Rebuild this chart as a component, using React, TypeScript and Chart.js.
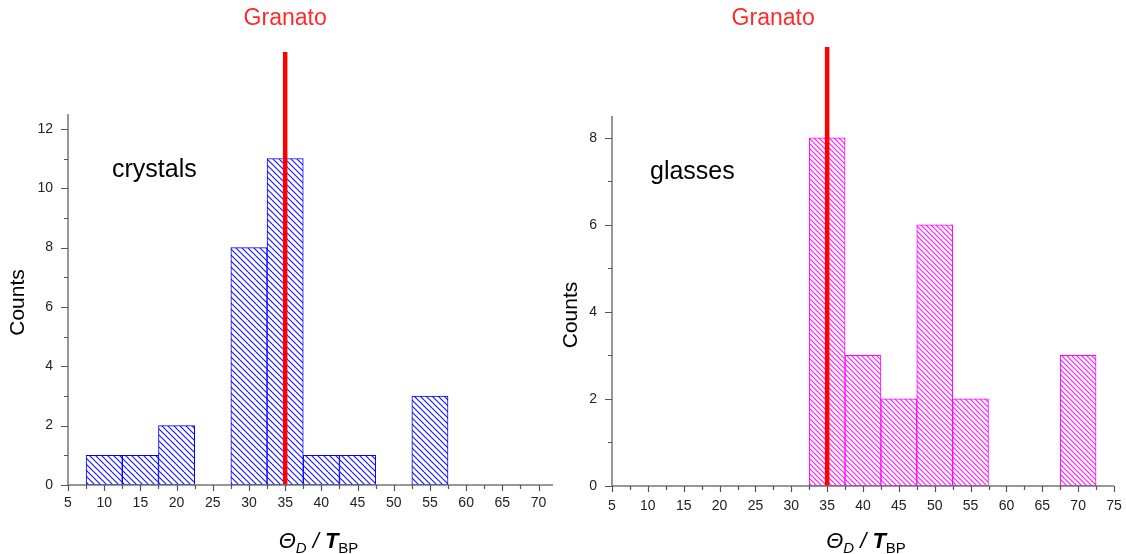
import React, { useEffect, useRef } from 'react';
import { Chart, registerables } from 'chart.js';
Chart.register(...registerables);

// ---- data ----
const crystalBins = [10, 15, 20, 30, 35, 40, 45, 55];
const crystalCounts = [1, 1, 2, 8, 11, 1, 1, 3];
const glassBins = [35, 40, 45, 50, 55, 70];
const glassCounts = [8, 3, 2, 6, 2, 3];
const granatoValue = 35;
const granatoLabel = 'Granato';
const crystalLabel = 'crystals';
const glassLabel = 'glasses';
const yTitle = 'Counts';

const FONT = '"Liberation Sans", Arial, sans-serif';

type Panel = {
  bins: number[];
  counts: number[];
  label: string;
  color: string;
  hatchColor: string;
  hatchSize: number;
  xMin: number;
  xMax: number;
  yMax: number;
  left: number;
  width: number;
  padTop: number;
  padRight: number;
  yAxisWidth: number;
  xAxisHeight: number;
  xLabelPad: number;
  markerTop: number;
  granatoDx: number;
  labelDx: number;
  labelY: number;
  countsX: number;
  countsDy: number;
  titleDx: number;
};

const panels: Panel[] = [
  {
    bins: crystalBins, counts: crystalCounts, label: crystalLabel,
    color: '#0000ff', hatchColor: '#1a1aff', hatchSize: 6,
    xMin: 5, xMax: 72, yMax: 12.5,
    left: 0, width: 556, padTop: 114, padRight: 3, yAxisWidth: 68, xAxisHeight: 69,
    xLabelPad: 10, markerTop: 52, granatoDx: 0, labelDx: 44, labelY: 177,
    countsX: 18, countsDy: 3, titleDx: 8,
  },
  {
    bins: glassBins, counts: glassCounts, label: glassLabel,
    color: '#ff00ff', hatchColor: '#ff1aff', hatchSize: 5,
    xMin: 5, xMax: 75, yMax: 8.5,
    left: 556, width: 570, padTop: 116, padRight: 12, yAxisWidth: 56, xAxisHeight: 68,
    xLabelPad: 12, markerTop: 47, granatoDx: -54, labelDx: 38, labelY: 179,
    countsX: 15, countsDy: 14, titleDx: 3,
  },
];

function makeHatch(ctx: CanvasRenderingContext2D, color: string, s: number) {
  const c = document.createElement('canvas');
  c.width = s; c.height = s;
  const g = c.getContext('2d')!;
  g.fillStyle = '#ffffff';
  g.fillRect(0, 0, s, s);
  g.strokeStyle = color;
  g.lineWidth = 1.2;
  g.beginPath();
  g.moveTo(-1, -1); g.lineTo(s + 1, s + 1);
  g.moveTo(-1, s - 1); g.lineTo(1, s + 1);
  g.moveTo(s - 1, -1); g.lineTo(s + 1, 1);
  g.stroke();
  return ctx.createPattern(c, 'repeat')!;
}

const decorPlugin = {
  id: 'panelDecor',
  afterDatasetsDraw(chart: any) {
    const p: Panel = chart.options.plugins.panelDecor.panel;
    const { ctx } = chart;
    const xs = chart.scales.x;
    const ys = chart.scales.y;
    ctx.save();
    const mx = xs.getPixelForValue(granatoValue);
    ctx.strokeStyle = '#ff0000';
    ctx.lineWidth = 4.5;
    ctx.beginPath();
    ctx.moveTo(mx, ys.getPixelForValue(0));
    ctx.lineTo(mx, p.markerTop);
    ctx.stroke();
    ctx.restore();
  },
  afterDraw(chart: any) {
    const p: Panel = chart.options.plugins.panelDecor.panel;
    const { ctx, chartArea } = chart;
    const xs = chart.scales.x;
    const ys = chart.scales.y;
    const L = chartArea.left, R = chartArea.right, T = chartArea.top, B = chartArea.bottom;
    ctx.save();
    // axes
    ctx.strokeStyle = '#757575';
    ctx.lineWidth = 1.5;
    ctx.beginPath();
    ctx.moveTo(L, T); ctx.lineTo(L, B + 0.5);
    ctx.moveTo(L - 0.5, B); ctx.lineTo(R, B);
    ctx.stroke();
    ctx.lineWidth = 1.2;
    ctx.strokeStyle = '#555';
    ctx.beginPath();
    for (let v = p.xMin; v <= p.xMax + 1e-6; v += 2.5) {
      const x = Math.round(xs.getPixelForValue(v)) + 0.5;
      const major = Math.abs(v / 5 - Math.round(v / 5)) < 1e-6;
      ctx.moveTo(x, B);
      ctx.lineTo(x, B + (major ? 6 : 4));
    }
    for (let v = 0; v <= p.yMax + 1e-6; v += 1) {
      const y = Math.round(ys.getPixelForValue(v)) + 0.5;
      const major = v % 2 === 0;
      ctx.moveTo(L, y);
      ctx.lineTo(L - (major ? 7 : 4), y);
    }
    ctx.stroke();

    // Granato label
    const mx = xs.getPixelForValue(granatoValue);
    ctx.fillStyle = '#ff2a2a';
    ctx.font = `23px ${FONT}`;
    ctx.textAlign = 'center';
    ctx.textBaseline = 'alphabetic';
    ctx.fillText(granatoLabel, mx + p.granatoDx, 25);

    // panel label
    ctx.fillStyle = '#000';
    ctx.font = `25px ${FONT}`;
    ctx.textAlign = 'left';
    ctx.fillText(p.label, L + p.labelDx, p.labelY);

    // y title
    ctx.save();
    ctx.translate(p.countsX, (T + B) / 2 + p.countsDy);
    ctx.rotate(-Math.PI / 2);
    ctx.textAlign = 'center';
    ctx.textBaseline = 'middle';
    ctx.font = `21px ${FONT}`;
    ctx.fillText(yTitle, 0, 0);
    ctx.restore();

    // x title: Θ_D / T_BP
    const segs = [
      { t: '\u0398', f: `italic 22px ${FONT}`, dy: 0 },
      { t: 'D', f: `italic 15px ${FONT}`, dy: 5 },
      { t: ' / ', f: `italic 22px ${FONT}`, dy: 0 },
      { t: 'T', f: `bold italic 22px ${FONT}`, dy: 0 },
      { t: 'BP', f: `15px ${FONT}`, dy: 5 },
    ];
    let total = 0;
    for (const s of segs) { ctx.font = s.f; total += ctx.measureText(s.t).width; }
    let x = (L + R) / 2 + p.titleDx - total / 2;
    const base = 548;
    ctx.textAlign = 'left';
    ctx.textBaseline = 'alphabetic';
    for (const s of segs) {
      ctx.font = s.f;
      ctx.fillText(s.t, x, base + s.dy);
      x += ctx.measureText(s.t).width;
    }
    ctx.restore();
  },
};

function PanelChart({ p }: { p: Panel }) {
  const ref = useRef<HTMLCanvasElement>(null);
  useEffect(() => {
    const canvas = ref.current!;
    const ctx = canvas.getContext('2d')!;
    const pattern = makeHatch(ctx, p.hatchColor, p.hatchSize);
    const chart = new Chart(ctx, {
      type: 'bar',
      data: {
        datasets: [
          {
            data: p.bins.map((b, i) => ({ x: b, y: p.counts[i] })),
            backgroundColor: pattern,
            borderColor: p.color,
            borderWidth: 1,
            borderSkipped: false,
            barPercentage: 1,
            categoryPercentage: 1,
          } as any,
        ],
      },
      options: {
        responsive: false,
        animation: false,
        events: [],
        layout: { padding: { left: 0, top: p.padTop, right: p.padRight, bottom: 0 } },
        plugins: {
          legend: { display: false },
          tooltip: { enabled: false },
          panelDecor: { panel: p },
        } as any,
        scales: {
          x: {
            type: 'linear',
            min: p.xMin,
            max: p.xMax,
            offset: false,
            grid: { display: false, drawTicks: false, offset: false },
            border: { display: false },
            ticks: {
              stepSize: 5,
              includeBounds: false,
              autoSkip: false,
              maxRotation: 0,
              padding: p.xLabelPad,
              color: '#222',
              font: { family: FONT, size: 14 },
            },
            afterFit: (s: any) => {
              s.height = p.xAxisHeight;
              s.paddingLeft = 0;
              s.paddingRight = 0;
            },
          },
          y: {
            type: 'linear',
            min: 0,
            max: p.yMax,
            grid: { display: false, drawTicks: false },
            border: { display: false },
            ticks: {
              stepSize: 2,
              includeBounds: false,
              padding: 15,
              color: '#222',
              font: { family: FONT, size: 14 },
            },
            afterFit: (s: any) => {
              s.width = p.yAxisWidth;
              s.paddingTop = 0;
              s.paddingBottom = 0;
            },
          },
        },
      } as any,
      plugins: [decorPlugin],
    });
    return () => chart.destroy();
  }, [p]);
  return (
    <canvas
      ref={ref}
      width={p.width}
      height={554}
      style={{ position: 'absolute', left: p.left, top: 0, width: p.width, height: 554 }}
    />
  );
}

export default function App() {
  return (
    <div style={{ position: 'fixed', left: 0, top: 0, width: 1126, height: 554, background: '#fff', overflow: 'hidden' }}>
      {panels.map((p, i) => (
        <PanelChart key={i} p={p} />
      ))}
    </div>
  );
}
